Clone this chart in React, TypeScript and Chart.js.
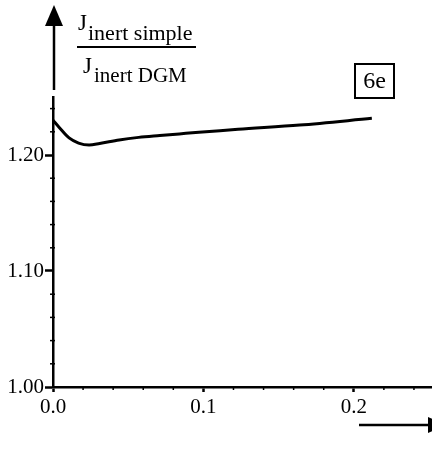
import React, { useEffect, useRef } from "react";
import { Chart, registerables } from "chart.js";

Chart.register(...registerables);

const xValues = [0, 0.004, 0.0107, 0.017, 0.024, 0.031, 0.044, 0.057, 0.071, 0.084, 0.097, 0.111, 0.123, 0.164, 0.212];
const yValues = [1.230, 1.224, 1.2147, 1.2103, 1.2086, 1.2099, 1.213, 1.2152, 1.2168, 1.2182, 1.2196, 1.221, 1.2222, 1.2258, 1.2316];

const xMajorTicks = [0, 0.1, 0.2];
const xMinorTicks = [0.02, 0.04, 0.06, 0.08, 0.12, 0.14, 0.16, 0.18, 0.22, 0.24];
const yMajorTicks = [1.0, 1.1, 1.2];
const yMinorTicks = [1.02, 1.04, 1.06, 1.08, 1.12, 1.14, 1.16, 1.18, 1.22, 1.24];

const yLabelTop = "J";
const yLabelTopSub = "inert simple";
const yLabelBottom = "J";
const yLabelBottomSub = "inert DGM";
const panelTag = "6e";

const FONT = "'Liberation Serif', 'DejaVu Serif', serif";

const decorPlugin = {
  id: "decor",
  afterDraw(chart: any) {
    const ctx = chart.ctx;
    const xs = chart.scales.x;
    const ys = chart.scales.y;
    const left = chart.chartArea.left;
    const bottom = chart.chartArea.bottom;
    ctx.save();
    ctx.strokeStyle = "#000";
    ctx.fillStyle = "#000";
    // minor ticks
    ctx.lineWidth = 1.5;
    xMinorTicks.forEach((v) => {
      const px = xs.getPixelForValue(v);
      ctx.beginPath();
      ctx.moveTo(px, bottom);
      ctx.lineTo(px, bottom + 3);
      ctx.stroke();
    });
    yMinorTicks.forEach((v) => {
      const py = ys.getPixelForValue(v);
      ctx.beginPath();
      ctx.moveTo(left - 3, py);
      ctx.lineTo(left + 2, py);
      ctx.stroke();
    });
    // y arrow
    ctx.lineWidth = 2.5;
    ctx.beginPath();
    ctx.moveTo(left + 1, 90);
    ctx.lineTo(left + 1, 22);
    ctx.stroke();
    ctx.beginPath();
    ctx.moveTo(left + 1, 5);
    ctx.lineTo(left - 8, 26);
    ctx.lineTo(left + 10, 26);
    ctx.closePath();
    ctx.fill();
    // x arrow
    ctx.beginPath();
    ctx.moveTo(359, 425);
    ctx.lineTo(430, 425);
    ctx.stroke();
    ctx.beginPath();
    ctx.moveTo(446, 425);
    ctx.lineTo(428, 417);
    ctx.lineTo(428, 433);
    ctx.closePath();
    ctx.fill();
    // y label fraction
    ctx.textBaseline = "alphabetic";
    ctx.textAlign = "left";
    ctx.font = `23px ${FONT}`;
    ctx.fillText(yLabelTop, 78, 30);
    ctx.font = `22px ${FONT}`;
    ctx.fillText(yLabelTopSub, 88, 40);
    ctx.lineWidth = 2;
    ctx.beginPath();
    ctx.moveTo(77, 47);
    ctx.lineTo(196, 47);
    ctx.stroke();
    ctx.font = `23px ${FONT}`;
    ctx.fillText(yLabelBottom, 83, 73);
    ctx.font = `21px ${FONT}`;
    ctx.fillText(yLabelBottomSub, 94, 82);
    // tag box
    ctx.lineWidth = 2;
    ctx.strokeRect(355, 64, 39, 34);
    ctx.font = `24px ${FONT}`;
    ctx.textAlign = "center";
    ctx.textBaseline = "middle";
    ctx.fillText(panelTag, 374.5, 82);
    ctx.restore();
  },
};

export default function App() {
  const canvasRef = useRef<HTMLCanvasElement>(null);

  useEffect(() => {
    const canvas = canvasRef.current;
    if (!canvas) return;
    const chart = new Chart(canvas, {
      type: "line",
      data: {
        datasets: [
          {
            data: xValues.map((x, i) => ({ x, y: yValues[i] })),
            borderColor: "#000",
            borderWidth: 3,
            pointRadius: 0,
            fill: false,
            cubicInterpolationMode: "monotone",
          },
        ],
      },
      options: {
        responsive: false,
        animation: false,
        events: [],
        layout: { padding: { top: 97, right: 0, left: 0, bottom: 0 } },
        plugins: { legend: { display: false }, tooltip: { enabled: false } },
        scales: {
          x: {
            type: "linear",
            min: 0,
            max: 0.252,
            afterBuildTicks: (s: any) => {
              s.ticks = xMajorTicks.map((v) => ({ value: v }));
            },
            afterFit: (s: any) => {
              s.height = 67;
            },
            grid: {
              display: true,
              drawOnChartArea: false,
              drawTicks: true,
              tickLength: 5,
              tickWidth: 2.5,
              tickColor: "#000",
            },
            border: { display: true, color: "#000", width: 2.5 },
            ticks: {
              color: "#000",
              font: { family: FONT, size: 21 },
              padding: 3,
              maxRotation: 0,
              callback: (v: any) => Number(v).toFixed(1),
            },
          },
          y: {
            type: "linear",
            min: 1.0,
            max: 1.25,
            afterBuildTicks: (s: any) => {
              s.ticks = yMajorTicks.map((v) => ({ value: v }));
            },
            afterFit: (s: any) => {
              s.width = 53;
            },
            grid: {
              display: true,
              drawOnChartArea: false,
              drawTicks: true,
              tickLength: 8,
              tickWidth: 2.5,
              tickColor: "#000",
            },
            border: { display: true, color: "#000", width: 2.5 },
            ticks: {
              color: "#000",
              font: { family: FONT, size: 21 },
              padding: 1,
              callback: (v: any) => Number(v).toFixed(2),
            },
          },
        },
      },
      plugins: [decorPlugin],
    } as any);
    return () => chart.destroy();
  }, []);

  return (
    <div style={{ position: "fixed", left: 0, top: 0, width: 432, height: 454, background: "#fff" }}>
      <canvas ref={canvasRef} width={432} height={454} style={{ display: "block" }} />
    </div>
  );
}
